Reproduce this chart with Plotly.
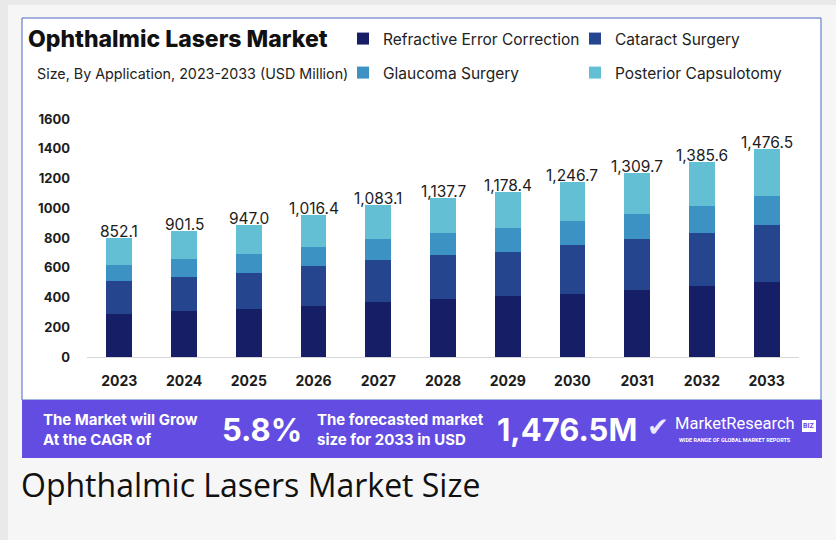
import plotly.graph_objects as go

# ---- data ----
years = ["2023", "2024", "2025", "2026", "2027", "2028", "2029", "2030", "2031", "2032", "2033"]
refractive = [292, 308, 326, 346, 373, 389, 407, 425, 452, 479, 506]
cataract = [220, 233, 242, 265, 279, 294, 301, 325, 339, 357, 384]
glaucoma = [108, 118, 124, 131, 141, 148, 157, 167, 171, 182, 195]
posterior = [180, 190, 198, 215, 227, 239, 245, 261, 276, 292, 311]
total_labels = ["852.1", "901.5", "947.0", "1,016.4", "1,083.1", "1,137.7",
                "1,178.4", "1,246.7", "1,309.7", "1,385.6", "1,476.5"]
y_ticks = [0, 200, 400, 600, 800, 1000, 1200, 1400, 1600]

series_names = ["Refractive Error Correction", "Cataract Surgery",
                "Glaucoma Surgery", "Posterior Capsulotomy"]
series_values = [refractive, cataract, glaucoma, posterior]
series_colors = ["#161f66", "#25458f", "#3b92c3", "#63c0d4"]

# ---- layout geometry (pixels) ----
W, H = 836, 540
L, R, T, B = 87, 37, 119, 183
PW, PH = W - L - R, H - T - B


def px(x):
    return (x - L) / PW


def py(y):
    return (H - B - y) / PH


fig = go.Figure()
legend_ids = ["legend", "legend2", "legend3", "legend4"]
for name, vals, col, lid in zip(series_names, series_values, series_colors, legend_ids):
    fig.add_trace(go.Bar(x=years, y=vals, name=name, marker_color=col,
                         marker_line_width=0, legend=lid))

totals = [sum(v) for v in zip(*series_values)]
annotations = []
for i, (tot, lab) in enumerate(zip(totals, total_labels)):
    annotations.append(dict(x=i, y=tot, xref="x", yref="y", text=lab, showarrow=False,
                            yanchor="bottom", yshift=-5,
                            font=dict(family="Inter", size=15.5, color="#1c1c1c")))

# titles
annotations += [
    dict(x=px(26), y=py(39), xref="paper", yref="paper", xanchor="left", yanchor="middle",
         text="Ophthalmic Lasers Market", showarrow=False,
         font=dict(family="Inter", size=23, color="#111111", weight=800)),
    dict(x=px(35), y=py(73), xref="paper", yref="paper", xanchor="left", yanchor="middle",
         text="Size, By Application, 2023-2033 (USD Million)", showarrow=False,
         font=dict(family="Inter", size=14.3, color="#222222")),
    # banner
    dict(x=px(41), y=py(429), xref="paper", yref="paper", xanchor="left", yanchor="middle",
         text="The Market will Grow<br>At the CAGR of", showarrow=False, align="left",
         font=dict(family="Inter", size=15, color="#ffffff", weight=700)),
    dict(x=px(220), y=py(429), xref="paper", yref="paper", xanchor="left", yanchor="middle",
         text="5.8%", showarrow=False,
         font=dict(family="Inter", size=31, color="#ffffff", weight=700)),
    dict(x=px(315), y=py(429), xref="paper", yref="paper", xanchor="left", yanchor="middle",
         text="The forecasted market<br>size for 2033 in USD", showarrow=False, align="left",
         font=dict(family="Inter", size=15, color="#ffffff", weight=700)),
    dict(x=px(495), y=py(429), xref="paper", yref="paper", xanchor="left", yanchor="middle",
         text="1,476.5M", showarrow=False,
         font=dict(family="Inter", size=31, color="#ffffff", weight=700)),
    dict(x=px(645), y=py(427), xref="paper", yref="paper", xanchor="left", yanchor="middle",
         text="✔", showarrow=False,
         font=dict(family="DejaVu Sans", size=26, color="#ece8ff")),
    dict(x=px(673), y=py(423), xref="paper", yref="paper", xanchor="left", yanchor="middle",
         text="MarketResearch", showarrow=False,
         font=dict(family="Roboto", size=16.5, color="#ffffff")),
    dict(x=px(809), y=py(426), xref="paper", yref="paper", xanchor="center", yanchor="middle",
         text="BIZ", showarrow=False,
         font=dict(family="Roboto", size=7, color="#634ce2", weight=700)),
    dict(x=px(677), y=py(440), xref="paper", yref="paper", xanchor="left", yanchor="middle",
         text="WIDE RANGE OF GLOBAL MARKET REPORTS", showarrow=False,
         font=dict(family="Roboto", size=5.5, color="#ffffff", weight=700)),
    # caption
    dict(x=px(19), y=py(485), xref="paper", yref="paper", xanchor="left", yanchor="middle",
         text="Ophthalmic Lasers Market Size", showarrow=False,
         font=dict(family="Open Sans", size=32, color="#111111")),
]

shapes = [
    # outer frame bands
    dict(type="rect", xref="paper", yref="paper", x0=px(0), x1=px(8), y0=py(540), y1=py(0),
         fillcolor="#e9e9e9", line_width=0, layer="below"),
    dict(type="rect", xref="paper", yref="paper", x0=px(0), x1=px(836), y0=py(5), y1=py(0),
         fillcolor="#e9e9e9", line_width=0, layer="below"),
    # white card
    dict(type="rect", xref="paper", yref="paper", x0=px(22), x1=px(821), y0=py(400), y1=py(18),
         fillcolor="#ffffff", line=dict(color="#4a68c0", width=1), layer="below"),
    # purple banner
    dict(type="rect", xref="paper", yref="paper", x0=px(22), x1=px(822), y0=py(458), y1=py(400),
         fillcolor="#634ce2", line_width=0, layer="below"),
    # BIZ box
    dict(type="rect", xref="paper", yref="paper", x0=px(802), x1=px(816), y0=py(432), y1=py(420),
         fillcolor="#ffffff", line_width=0, layer="above"),
]

legend_pos = [(363, 39), (595, 39), (363, 73), (595, 73)]
legend_layouts = {}
for lid, (lx, ly) in zip(legend_ids, legend_pos):
    legend_layouts[lid] = dict(x=px(lx - 20), y=py(ly), xanchor="left", yanchor="middle",
                               bgcolor="rgba(0,0,0,0)", itemwidth=30,
                               font=dict(family="Inter", size=15.5, color="#222222"))

fig.update_layout(
    width=W, height=H,
    margin=dict(l=L, r=R, t=T, b=B, pad=0),
    paper_bgcolor="#f6f6f6",
    plot_bgcolor="rgba(0,0,0,0)",
    barmode="stack",
    bargap=0.6,
    showlegend=True,
    xaxis=dict(type="category", range=[-0.5, 10.5], showline=True, linecolor="#d6d6d6",
               linewidth=1, showgrid=False, ticks="", ticklabelstandoff=11,
               tickfont=dict(family="Inter", size=14, color="#1c1c1c", weight=700)),
    yaxis=dict(range=[0, 1600], tickvals=y_ticks, tickformat="d", showgrid=False,
               zeroline=False, showline=False, ticks="", ticklabelstandoff=16,
               tickfont=dict(family="Inter", size=13, color="#1c1c1c", weight=700)),
    annotations=annotations,
    shapes=shapes,
    **legend_layouts,
)

fig.write_html("out.html")
